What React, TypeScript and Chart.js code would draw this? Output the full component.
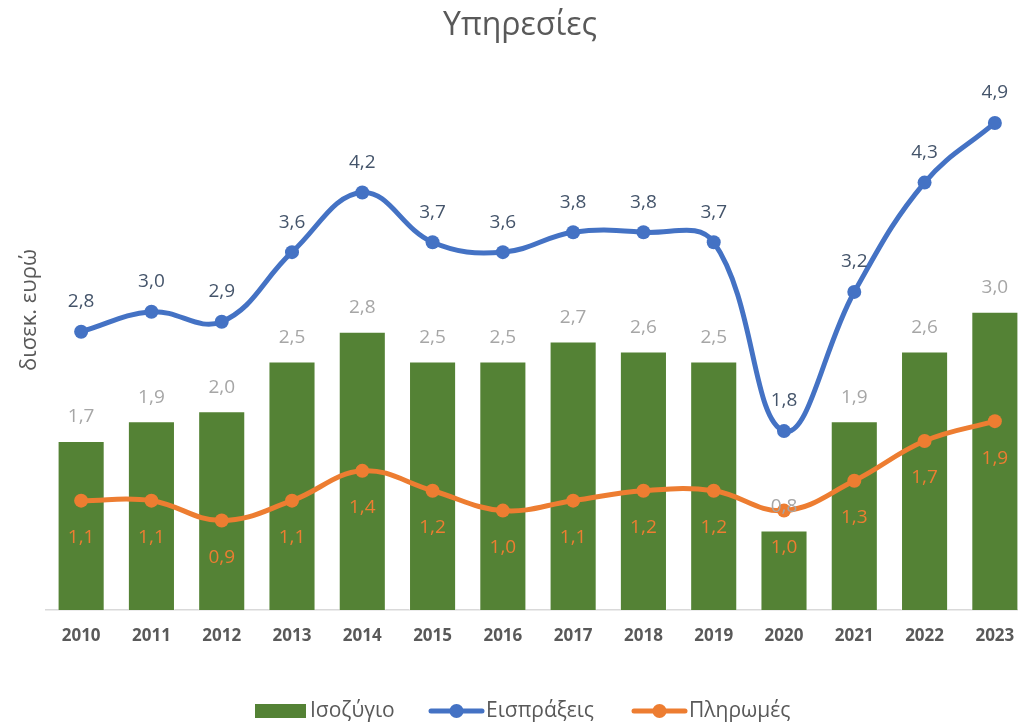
import React, { useEffect, useRef } from "react";
import { Chart, registerables } from "chart.js";

Chart.register(...registerables);

const years = ["2010", "2011", "2012", "2013", "2014", "2015", "2016", "2017", "2018", "2019", "2020", "2021", "2022", "2023"];
const balance = [1.7, 1.9, 2.0, 2.5, 2.8, 2.5, 2.5, 2.7, 2.6, 2.5, 0.8, 1.9, 2.6, 3.0];
const receipts = [2.8, 3.0, 2.9, 3.6, 4.2, 3.7, 3.6, 3.8, 3.8, 3.7, 1.8, 3.2, 4.3, 4.9];
const payments = [1.1, 1.1, 0.9, 1.1, 1.4, 1.2, 1.0, 1.1, 1.2, 1.2, 1.0, 1.3, 1.7, 1.9];

const titleText = "Υπηρεσίες";
const yTitle = "δισεκ. ευρώ";
const seriesNames = ["Ισοζύγιο", "Εισπράξεις", "Πληρωμές"];

const GREEN = "#548235";
const BLUE = "#4472C4";
const ORANGE = "#ED7D31";
const GRAY = "#595959";
const FONT = "'Open Sans', 'Noto Sans', sans-serif";

const fmt = (v: number) => v.toFixed(1).replace(".", ",");

const decorPlugin = {
  id: "decor",
  afterDatasetsDraw(chart: any) {
    const ctx = chart.ctx;
    ctx.save();
    ctx.textAlign = "center";
    ctx.textBaseline = "middle";
    ctx.font = `19px ${FONT}`;
    const m0 = chart.getDatasetMeta(0);
    m0.data.forEach((el: any, i: number) => {
      ctx.fillStyle = "#A6A6A6";
      ctx.fillText(fmt(balance[i]), el.x, el.y - 24);
    });
    const m1 = chart.getDatasetMeta(1);
    m1.data.forEach((el: any, i: number) => {
      ctx.fillStyle = "#44546A";
      ctx.fillText(fmt(receipts[i]), el.x, el.y - 30);
    });
    const m2 = chart.getDatasetMeta(2);
    m2.data.forEach((el: any, i: number) => {
      ctx.fillStyle = ORANGE;
      ctx.fillText(fmt(payments[i]), el.x, el.y + 37);
    });
    ctx.restore();
  },
  afterDraw(chart: any) {
    const ctx = chart.ctx;
    ctx.save();
    ctx.fillStyle = GRAY;
    ctx.textAlign = "center";
    ctx.textBaseline = "middle";
    ctx.font = `32px ${FONT}`;
    ctx.fillText(titleText, 520, 26);
    ctx.save();
    ctx.translate(30, 310);
    ctx.rotate(-Math.PI / 2);
    ctx.font = `22px ${FONT}`;
    ctx.fillText(yTitle, 0, 0);
    ctx.restore();
    ctx.font = `21px ${FONT}`;
    ctx.textAlign = "left";
    const ly = 711;
    ctx.fillStyle = GREEN;
    ctx.fillRect(255, 704, 51, 14);
    ctx.fillStyle = GRAY;
    ctx.fillText(seriesNames[0], 310, ly);
    const drawLineItem = (x: number, color: string, label: string) => {
      ctx.strokeStyle = color;
      ctx.lineWidth = 5;
      ctx.lineCap = "round";
      ctx.beginPath();
      ctx.moveTo(x, ly);
      ctx.lineTo(x + 51, ly);
      ctx.stroke();
      ctx.fillStyle = color;
      ctx.beginPath();
      ctx.arc(x + 25.5, ly, 7, 0, Math.PI * 2);
      ctx.fill();
      ctx.fillStyle = GRAY;
      ctx.fillText(label, x + 55, ly);
    };
    drawLineItem(431, BLUE, seriesNames[1]);
    drawLineItem(634, ORANGE, seriesNames[2]);
    ctx.restore();
  },
};

export default function App() {
  const ref = useRef<HTMLCanvasElement>(null);
  useEffect(() => {
    if (!ref.current) return;
    const chart = new Chart(ref.current, {
      type: "bar",
      data: {
        labels: years,
        datasets: [
          {
            type: "bar",
            label: seriesNames[0],
            data: balance,
            backgroundColor: GREEN,
            borderColor: "rgba(255,255,255,0.45)",
            borderWidth: 1,
            categoryPercentage: 1,
            barPercentage: 0.67,
            order: 3,
          } as any,
          {
            type: "line",
            label: seriesNames[1],
            data: receipts,
            borderColor: BLUE,
            backgroundColor: BLUE,
            borderWidth: 5,
            pointRadius: 7,
            pointBorderWidth: 0,
            tension: 0.4,
            clip: false,
            order: 2,
          } as any,
          {
            type: "line",
            label: seriesNames[2],
            data: payments,
            borderColor: ORANGE,
            backgroundColor: ORANGE,
            borderWidth: 5,
            pointRadius: 7,
            pointBorderWidth: 0,
            tension: 0.4,
            clip: false,
            order: 1,
          } as any,
        ],
      },
      plugins: [decorPlugin],
      options: {
        responsive: false,
        animation: false,
        layout: { padding: { left: 46, right: 10, top: 113, bottom: 0 } },
        plugins: {
          legend: { display: false },
          title: { display: false },
          tooltip: { enabled: false },
        },
        scales: {
          x: {
            grid: { display: false, drawTicks: false },
            border: { color: "#D9D9D9", width: 1.5 },
            ticks: {
              color: GRAY,
              font: { family: FONT, size: 17, weight: "bold" },
              padding: 16,
              maxRotation: 0,
              autoSkip: false,
            },
            afterFit: (scale: any) => {
              scale.height = 114;
            },
          },
          y: {
            display: false,
            min: 0,
            max: 5,
          },
        },
      } as any,
    });
    return () => chart.destroy();
  }, []);
  return (
    <div style={{ position: "fixed", left: 0, top: 0, width: 1018, height: 724, overflow: "hidden", background: "#fff" }}>
      <canvas ref={ref} width={1040} height={724} style={{ width: 1040, height: 724, display: "block" }} />
    </div>
  );
}
